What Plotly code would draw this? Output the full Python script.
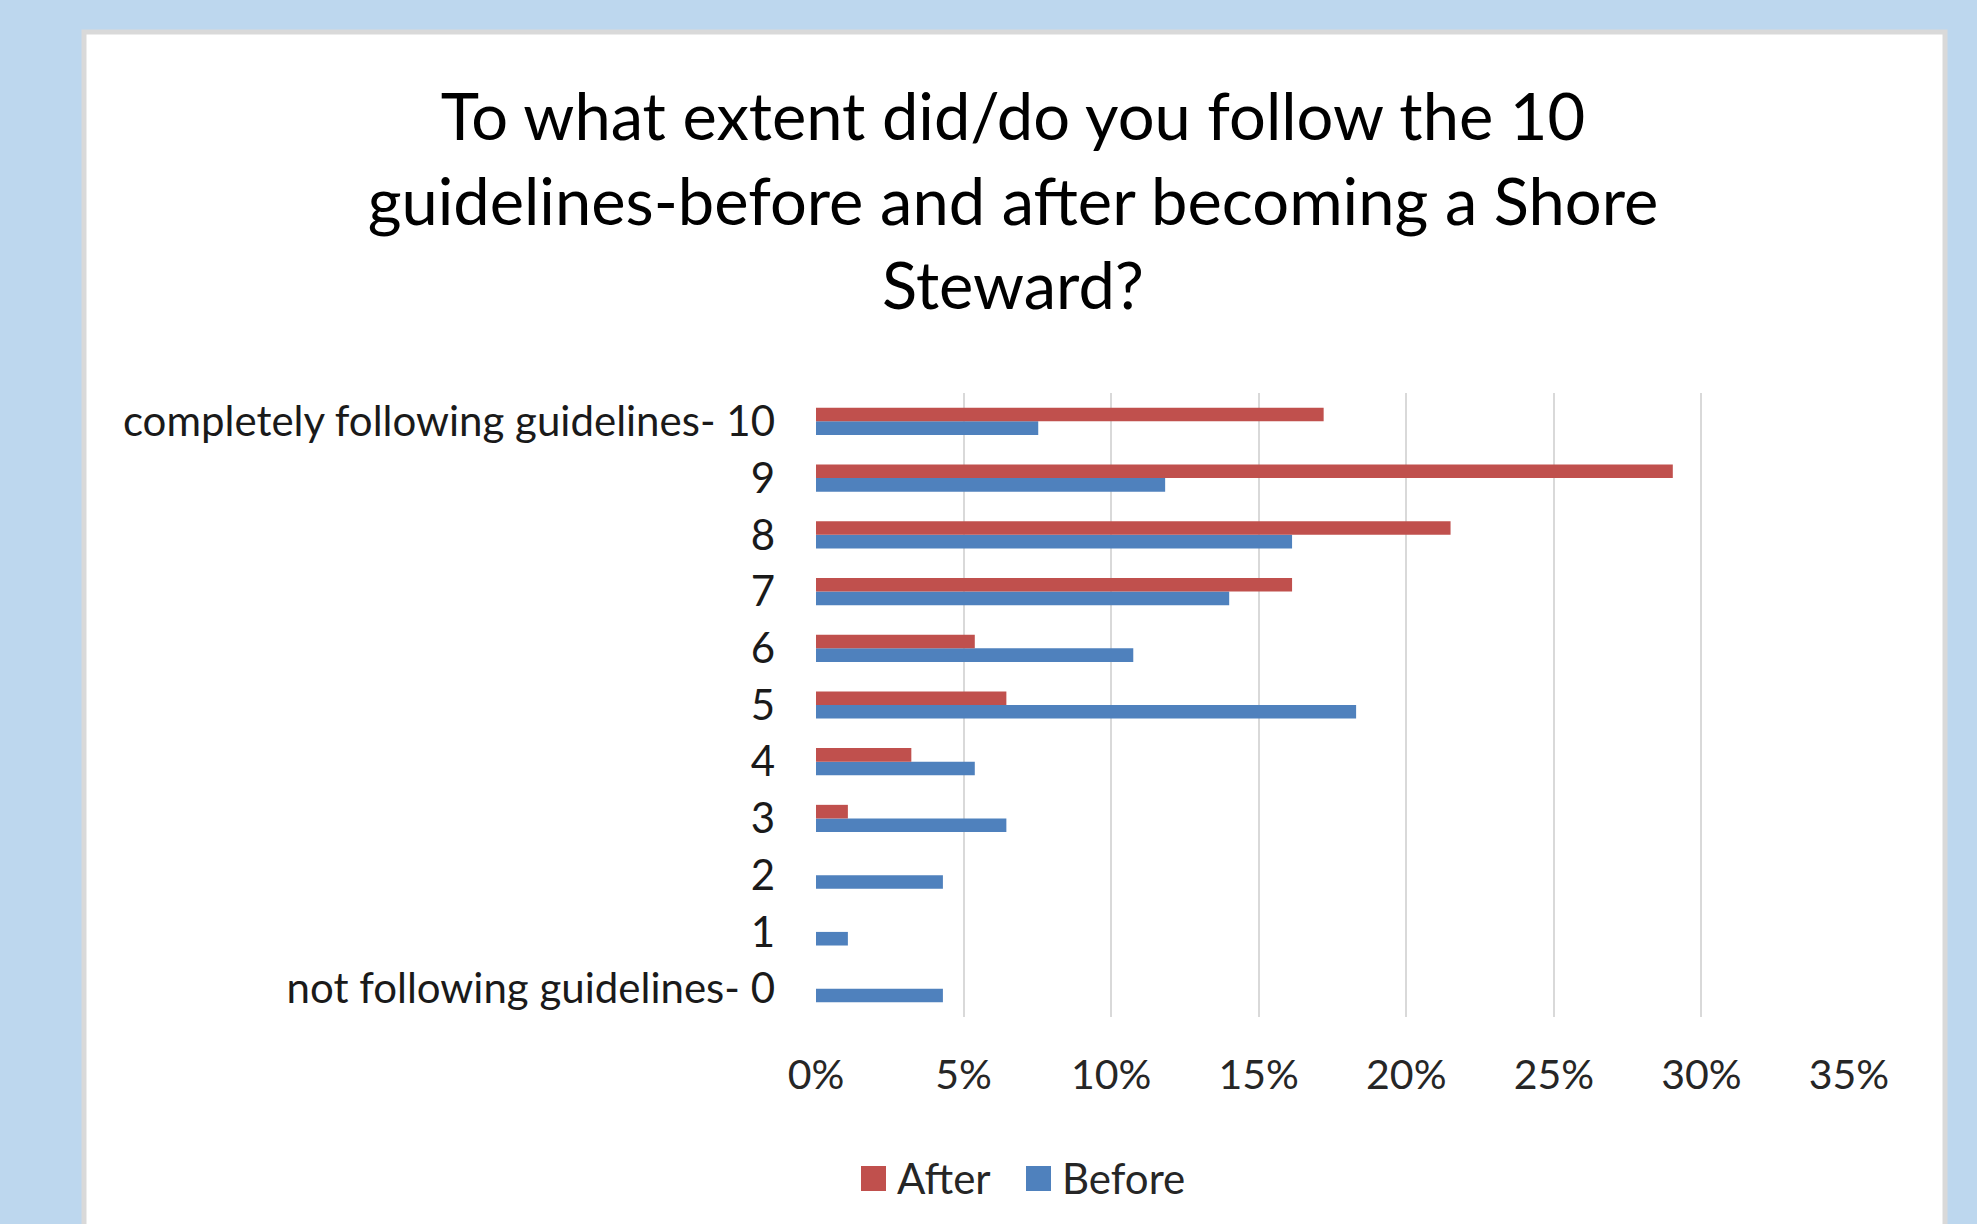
import plotly.graph_objects as go

categories = ["not following guidelines- 0", "1", "2", "3", "4", "5", "6", "7", "8", "9",
              "completely following guidelines- 10"]
before_vals = [0.043, 0.0108, 0.043, 0.0645, 0.0538, 0.183, 0.1075, 0.14, 0.1613, 0.1183, 0.0753]
after_vals = [0.0, 0.0, 0.0, 0.0108, 0.0323, 0.0645, 0.0538, 0.1613, 0.215, 0.2903, 0.172]
x_ticks = [0, 0.05, 0.10, 0.15, 0.20, 0.25, 0.30, 0.35]
series_names = ["After", "Before"]
series_colors = ["#C0504D", "#4F81BD"]

title_text = ("To what extent did/do you follow the 10<br>guidelines-before and after becoming a Shore"
              "<br>Steward?")

W, H = 1977, 1224
FONT = "Lato, 'Open Sans', sans-serif"
PX0, PX1, PY0, PY1 = 816, 1849, 1017, 393  # plot area in pixels


def px(xp):
    return (xp - PX0) / (PX1 - PX0)


def py(yp):
    return (PY0 - yp) / (PY0 - PY1)


fig = go.Figure()
fig.add_trace(go.Bar(y=categories, x=before_vals, name=series_names[1], orientation="h",
                     marker=dict(color=series_colors[1], line=dict(width=0)), showlegend=False))
fig.add_trace(go.Bar(y=categories, x=after_vals, name=series_names[0], orientation="h",
                     marker=dict(color=series_colors[0], line=dict(width=0)), showlegend=False))

# legend (large square swatches like the original)
shapes = [dict(type="rect", xref="paper", yref="paper", layer="below",
               x0=px(84), x1=px(1945), y0=py(1240), y1=py(32),
               fillcolor="#FFFFFF", line=dict(color="#D9D9D9", width=5))]
annotations = []
swatch_x = [861, 1026]
for name, color, sx in zip(series_names, series_colors, swatch_x):
    shapes.append(dict(type="rect", xref="paper", yref="paper",
                       x0=px(sx), x1=px(sx + 25), y0=py(1191), y1=py(1166),
                       fillcolor=color, line=dict(width=0)))
    annotations.append(dict(text=name, xref="paper", yref="paper", x=px(sx + 34), y=py(1178),
                            xanchor="left", yanchor="middle", showarrow=False,
                            font=dict(size=42, color="#262626", family=FONT)))

fig.update_layout(
    width=W, height=H,
    paper_bgcolor="#BDD7EE",
    plot_bgcolor="rgba(0,0,0,0)",
    margin=dict(l=PX0, r=W - PX1, t=PY1, b=H - PY0, pad=0),
    barmode="group",
    bargap=0.52,
    bargroupgap=0,
    showlegend=False,
    font=dict(family=FONT, color="#262626"),
    title=dict(text=title_text, x=1013 / W, xanchor="center", xref="container",
               y=1 - 140 / H, yanchor="top", yref="container",
               font=dict(family=FONT, size=65, color="#000000")),
    shapes=shapes,
    annotations=annotations,
)
fig.update_xaxes(range=[0, 0.35], tickvals=x_ticks, tickformat=".0%",
                 showgrid=True, gridcolor="#D9D9D9", gridwidth=2,
                 zeroline=False, showline=False, ticks="",
                 tickfont=dict(size=41, color="#262626"), ticklabelstandoff=30)
fig.update_yaxes(type="category", categoryorder="array", categoryarray=categories,
                 showgrid=False, zeroline=False, showline=False, ticks="",
                 tickfont=dict(size=42, color="#1a1a1a"), ticklabelstandoff=40)

fig.write_html("out.html", config={"displayModeBar": False},
               post_script="document.body.style.margin='0';document.body.style.overflow='hidden';")
